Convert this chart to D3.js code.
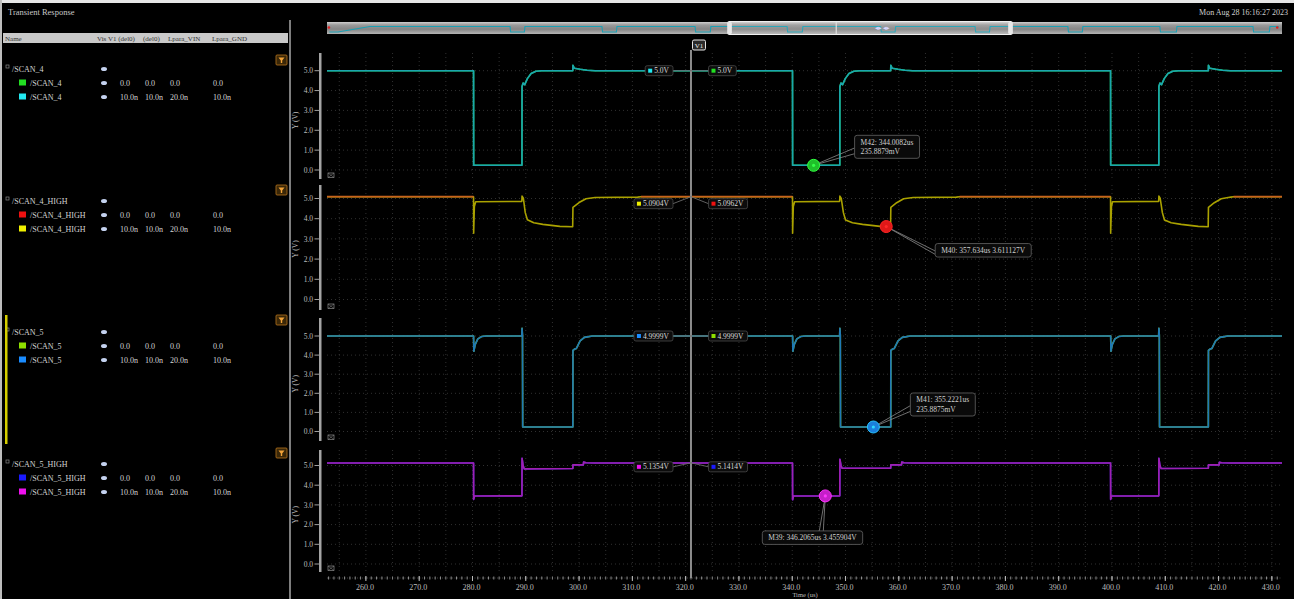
<!DOCTYPE html>
<html>
<head>
<meta charset="utf-8">
<script src="https://cdn.jsdelivr.net/npm/d3@7"></script>
<style>
  html, body { margin: 0; padding: 0; background: #000; overflow: hidden; }
  svg { display: block; }
  text { font-family: "Liberation Serif", "DejaVu Serif", serif; }
</style>
</head>
<body>
<svg id="chart" width="1294" height="599"></svg>
<script>
// ---------------- data ----------------
const xTickValues = [260, 270, 280, 290, 300, 310, 320, 330, 340, 350, 360, 370, 380, 390, 400, 410, 420, 430];
const yTickValues = [0, 1, 2, 3, 4, 5];

// /SCAN_4  [time us, volts]
const scan4Wave = [
  [252.7, 5.0], [280.2, 5.0], [280.22, 0.236], [289.28, 0.236], [289.3, 4.2], [289.5, 4.38], [289.8, 4.3],
  [290.3, 4.6], [291.0, 4.86], [291.9, 4.97], [293.0, 5.0], [298.82, 5.0], [298.85, 5.27], [299.1, 5.12],
  [300.2, 5.07], [301.5, 5.02], [303.0, 5.0],
  [340.05, 5.0], [340.07, 0.236], [348.92, 0.236], [348.94, 4.2], [349.15, 4.38], [349.45, 4.3],
  [349.95, 4.6], [350.65, 4.86], [351.55, 4.97], [352.6, 5.0], [358.47, 5.0], [358.5, 5.27], [358.75, 5.12],
  [359.85, 5.07], [361.15, 5.02], [362.6, 5.0],
  [399.73, 5.0], [399.75, 0.236], [408.78, 0.236], [408.8, 4.2], [409.0, 4.38], [409.3, 4.3],
  [409.8, 4.6], [410.5, 4.86], [411.4, 4.97], [412.5, 5.0], [418.08, 5.0], [418.1, 5.27], [418.35, 5.12],
  [419.45, 5.07], [420.75, 5.02], [422.2, 5.0], [431.9, 5.0]
];

// /SCAN_4_HIGH
const scan4HighWave = [
  [252.7, 5.09], [280.2, 5.09], [280.22, 3.28], [280.35, 4.6], [280.6, 4.84], [289.26, 4.86], [289.3, 5.12],
  [289.55, 5.0], [289.9, 4.3], [290.3, 3.95], [291.5, 3.8], [293.2, 3.72], [296.4, 3.62], [298.8, 3.6],
  [298.85, 4.56], [300.0, 4.8], [301.3, 4.99], [303.0, 5.05], [311.0, 5.07], [311.6, 5.09],
  [340.05, 5.09], [340.07, 3.28], [340.2, 4.6], [340.45, 4.84], [348.9, 4.86], [348.94, 5.12], [349.2, 5.0],
  [349.6, 4.3], [350.0, 3.94], [351.3, 3.8], [353.2, 3.72], [356.5, 3.62], [358.45, 3.6], [358.5, 4.56],
  [359.6, 4.79], [360.9, 4.99], [362.7, 5.05], [370.8, 5.07], [371.4, 5.09],
  [399.73, 5.09], [399.75, 3.28], [399.9, 4.6], [400.1, 4.84], [408.76, 4.86], [408.8, 5.12], [409.05, 5.0],
  [409.45, 4.3], [409.85, 3.94], [411.1, 3.8], [413.0, 3.72], [416.2, 3.62], [418.05, 3.6], [418.1, 4.56],
  [419.2, 4.79], [420.5, 4.99], [421.8, 5.05], [422.3, 5.07], [422.8, 5.09], [431.9, 5.09]
];

// /SCAN_5
const scan5Wave = [
  [252.7, 5.0], [280.2, 5.0], [280.25, 4.2], [280.5, 4.55], [281.0, 4.85], [281.7, 4.97], [282.6, 5.0],
  [289.25, 5.0], [289.3, 5.4], [289.38, 5.05], [289.42, 0.236], [298.83, 0.236], [298.85, 4.25], [299.2, 4.32],
  [299.5, 4.35], [300.2, 4.75], [301.0, 4.93], [302.5, 5.0],
  [340.07, 5.0], [340.12, 4.2], [340.37, 4.55], [340.87, 4.85], [341.57, 4.97], [342.47, 5.0],
  [348.89, 5.0], [348.94, 5.4], [349.02, 5.05], [349.06, 0.236], [358.48, 0.236], [358.5, 4.25], [358.85, 4.32],
  [359.15, 4.35], [359.85, 4.75], [360.65, 4.93], [362.15, 5.0],
  [399.75, 5.0], [399.8, 4.2], [400.05, 4.55], [400.55, 4.85], [401.25, 4.97], [402.15, 5.0],
  [408.75, 5.0], [408.8, 5.4], [408.88, 5.05], [408.92, 0.236], [418.08, 0.236], [418.1, 4.25], [418.45, 4.32],
  [418.75, 4.35], [419.45, 4.75], [420.25, 4.93], [421.75, 5.0], [431.9, 5.0]
];

// /SCAN_5_HIGH
const scan5HighWave = [
  [252.7, 5.13], [280.2, 5.13], [280.22, 3.28], [280.4, 3.45], [289.28, 3.46], [289.3, 5.37], [289.5, 5.0],
  [289.7, 4.83], [298.83, 4.85], [298.85, 5.03], [300.8, 5.03], [300.85, 5.18], [301.3, 5.14], [303.0, 5.13],
  [340.05, 5.13], [340.07, 3.26], [340.25, 3.45], [348.92, 3.46], [348.94, 5.32], [349.15, 5.0], [349.35, 4.86],
  [358.47, 4.86], [358.5, 5.03], [360.5, 5.03], [360.55, 5.18], [361.0, 5.14], [362.7, 5.13],
  [399.73, 5.13], [399.75, 3.28], [399.93, 3.45], [408.78, 3.46], [408.8, 5.36], [409.0, 5.0], [409.2, 4.85],
  [418.08, 4.86], [418.1, 5.03], [420.1, 5.03], [420.15, 5.16], [420.6, 5.14], [422.3, 5.13], [431.9, 5.13]
];

// vertical cursor V1
const cursorTime = 321.0;
const cursorReadouts = [
  { left: { color: "#22e8f0", text: "5.0V" },    right: { color: "#22dd22", text: "5.0V" },    value: 5.0 },
  { left: { color: "#f0f000", text: "5.0904V" }, right: { color: "#ee1111", text: "5.0962V" }, value: 5.09 },
  { left: { color: "#1a8cff", text: "4.9999V" }, right: { color: "#8ee000", text: "4.9999V" }, value: 5.0 },
  { left: { color: "#ee10ee", text: "5.1354V" }, right: { color: "#1a1aff", text: "5.1414V" }, value: 5.135 }
];

// point markers
const markers = [
  { name: "M42", t: 344.0082, v: 0.2358879, color: "#1fc02a", lines: ["M42: 344.0082us", "235.8879mV"] },
  { name: "M40", t: 357.634,  v: 3.611127,  color: "#e01818", lines: ["M40: 357.634us 3.611127V"] },
  { name: "M41", t: 355.2221, v: 0.2358875, color: "#1b7fdc", lines: ["M41: 355.2221us", "235.8875mV"] },
  { name: "M39", t: 346.2065, v: 3.455904,  color: "#c41fc8", lines: ["M39: 346.2065us 3.455904V"] }
];

// overview strip: full run, dips of /SCAN_4 [start, end] us
const overviewDips = [[115.4, 124.8], [173.3, 182.8], [232, 242], [290, 300], [349, 358.5],
                      [408.5, 418], [467, 476.5], [525, 535.8], [583.7, 594.4]];
const overviewRamp = [[1.5, 0.3], [6.9, 0.3], [27.1, 5.0]];

// browser panel
const columnHeaders = ["Name", "Vis V1 (del0)", "(del0)", "Lpara_VIN", "Lpara_GND"];
const legendGroups = [
  { name: "/SCAN_4", rows: [
    { label: "/SCAN_4", swatch: "#22dd22", vals: ["0.0", "0.0", "0.0", "0.0"] },
    { label: "/SCAN_4", swatch: "#22e8f0", vals: ["10.0n", "10.0n", "20.0n", "10.0n"] } ] },
  { name: "/SCAN_4_HIGH", rows: [
    { label: "/SCAN_4_HIGH", swatch: "#ee1111", vals: ["0.0", "0.0", "0.0", "0.0"] },
    { label: "/SCAN_4_HIGH", swatch: "#f0f000", vals: ["10.0n", "10.0n", "20.0n", "10.0n"] } ] },
  { name: "/SCAN_5", rows: [
    { label: "/SCAN_5", swatch: "#8ee000", vals: ["0.0", "0.0", "0.0", "0.0"] },
    { label: "/SCAN_5", swatch: "#1a8cff", vals: ["10.0n", "10.0n", "20.0n", "10.0n"] } ] },
  { name: "/SCAN_5_HIGH", rows: [
    { label: "/SCAN_5_HIGH", swatch: "#1a1aff", vals: ["0.0", "0.0", "0.0", "0.0"] },
    { label: "/SCAN_5_HIGH", swatch: "#ee10ee", vals: ["10.0n", "10.0n", "20.0n", "10.0n"] } ] }
];

// ---------------- layout ----------------
const svg = d3.select("#chart");
const W = 1294, H = 599;
const plotLeft = 327, plotRight = 1282;
const x = d3.scaleLinear().domain([252.7, 431.9]).range([plotLeft, plotRight]);

const panels = [
  { top: 53,  bottom: 179, y0: 170,   y5: 70.7, readDy: 0, traces: [
      { wave: scan4Wave, color: "#19c43a", width: 1.6 },
      { wave: scan4Wave, color: "#1ba5af", width: 1.6 } ] },
  { top: 185, bottom: 310, y0: 299.5, y5: 198.5, readDy: 7, traces: [
      { wave: scan4HighWave, color: "#aaa200", width: 1.6 },
      { wave: scan4HighWave, color: "#c8631c", width: 1.8, settledOnly: 5.08 } ] },
  { top: 318, bottom: 441, y0: 431.5, y5: 336, readDy: 0, traces: [
      { wave: scan5Wave, color: "#78c020", width: 1.6 },
      { wave: scan5Wave, color: "#1f79b6", width: 1.6 } ] },
  { top: 450, bottom: 572, y0: 564,   y5: 465.5, readDy: 4, traces: [
      { wave: scan5HighWave, color: "#3a2ad8", width: 1.6 },
      { wave: scan5HighWave, color: "#a01fb2", width: 1.6 } ] }
];
panels.forEach(p => { p.y = d3.scaleLinear().domain([0, 5]).range([p.y0, p.y5]); });
const markerPanel = { M42: 0, M40: 1, M41: 2, M39: 3 };
const markerBox = { M42: [41, -30, "left"], M40: [49, 17, "left"], M41: [37, -34, "left"], M39: [-63, 35, "top"] };

// background
svg.append("rect").attr("width", W).attr("height", H).attr("fill", "#000");
svg.append("rect").attr("x", 0).attr("y", 0).attr("width", W).attr("height", 3).attr("fill", "#e6e6e6");
svg.append("rect").attr("x", 0).attr("y", 0).attr("width", 2).attr("height", H).attr("fill", "#bdbdbd");

// ---------------- left browser panel ----------------
svg.append("text").attr("x", 8).attr("y", 15).attr("font-size", 8.5).attr("fill", "#c8c8c8").text("Transient Response");
svg.append("line").attr("x1", 290).attr("x2", 290).attr("y1", 20).attr("y2", H).attr("stroke", "#a8a8a8").attr("stroke-width", 1.5);
svg.append("rect").attr("x", 3).attr("y", 33).attr("width", 285).attr("height", 10).attr("fill", "#c9c9c9");
const headerX = [5, 97, 143, 168, 212];
columnHeaders.forEach((h, i) => {
  svg.append("text").attr("x", headerX[i]).attr("y", 41).attr("font-size", 7).attr("fill", "#333").text(h);
});

const groupY = [69, 201, 332, 464];
const valX = [120, 145, 170, 213];
legendGroups.forEach((g, gi) => {
  const gy = groupY[gi];
  const grp = svg.append("g");
  grp.append("rect").attr("x", 6).attr("y", gy - 4).attr("width", 3).attr("height", 3).attr("fill", "none").attr("stroke", "#888").attr("stroke-width", 0.7);
  grp.append("text").attr("x", 12).attr("y", gy + 2.5).attr("font-size", 8).attr("fill", "#d4d4d4").text(g.name);
  grp.append("ellipse").attr("cx", 104).attr("cy", gy).attr("rx", 3).attr("ry", 2).attr("fill", "#c4d2ef");
  g.rows.forEach((r, ri) => {
    const ry = gy + 14 * (ri + 1);
    grp.append("rect").attr("x", 19).attr("y", ry - 3.5).attr("width", 7).attr("height", 6).attr("fill", r.swatch);
    grp.append("text").attr("x", 30).attr("y", ry + 2.5).attr("font-size", 8).attr("fill", "#d4d4d4").text(r.label);
    grp.append("ellipse").attr("cx", 104).attr("cy", ry).attr("rx", 3).attr("ry", 2).attr("fill", "#c4d2ef");
    r.vals.forEach((v, vi) => {
      grp.append("text").attr("x", valX[vi]).attr("y", ry + 2.5).attr("font-size", 8).attr("fill", "#d4d4d4").text(v);
    });
  });
});
// selection bar beside /SCAN_5
svg.append("rect").attr("x", 5).attr("y", 315).attr("width", 2.5).attr("height", 129).attr("fill", "#d6cf00");
// filter icons
[55, 185, 315, 448].forEach(fy => {
  const f = svg.append("g").attr("transform", `translate(276,${fy})`);
  f.append("rect").attr("width", 11).attr("height", 10).attr("rx", 1).attr("fill", "#3a2708").attr("stroke", "#b8731c").attr("stroke-width", 0.8);
  f.append("path").attr("d", "M2.5,2.5 L8.5,2.5 L6.2,5.5 L6.2,8 L4.8,8 L4.8,5.5 Z").attr("fill", "#f2a338");
});

// ---------------- top overview strip ----------------
svg.append("text").attr("x", 1288).attr("y", 15).attr("text-anchor", "end").attr("font-size", 8).attr("fill", "#cfcfcf").text("Mon Aug 28 16:16:27 2023");
const defs = svg.append("defs");
const grad = defs.append("linearGradient").attr("id", "ovGrad").attr("x1", 0).attr("x2", 0).attr("y1", 0).attr("y2", 1);
grad.append("stop").attr("offset", "0%").attr("stop-color", "#cfcfcf");
grad.append("stop").attr("offset", "25%").attr("stop-color", "#9a9a9a");
grad.append("stop").attr("offset", "60%").attr("stop-color", "#858585");
grad.append("stop").attr("offset", "100%").attr("stop-color", "#b4b4b4");
const ov = d3.scaleLinear().domain([0, 602]).range([plotLeft, plotRight]);
const ovY = d3.scaleLinear().domain([0, 5]).range([32.3, 26.5]);
svg.append("rect").attr("x", plotLeft).attr("y", 22).attr("width", plotRight - plotLeft).attr("height", 12).attr("fill", "url(#ovGrad)");
const ovPts = overviewRamp.slice();
overviewDips.forEach(([a, b]) => { ovPts.push([a, 5], [a + 0.4, 0.236], [b - 0.4, 0.236], [b, 5]); });
ovPts.push([600, 5]);
svg.append("path").attr("d", d3.line().x(d => ov(d[0])).y(d => ovY(d[1]))(ovPts))
  .attr("fill", "none").attr("stroke", "#1aa0b4").attr("stroke-width", 1.1);
[1.2, 599].forEach(t => svg.append("circle").attr("cx", ov(t)).attr("cy", 27.5).attr("r", 1.3).attr("fill", "#e02020"));
const wx0 = ov(x.domain()[0]), wx1 = ov(x.domain()[1]);
svg.append("rect").attr("x", wx0).attr("y", 21.5).attr("width", wx1 - wx0).attr("height", 13).attr("fill", "#ffffff").attr("fill-opacity", 0.08)
  .attr("stroke", "#f0f0f0").attr("stroke-width", 1.2).attr("rx", 1.5);
[wx0, wx1 - 4].forEach(hx => svg.append("rect").attr("x", hx).attr("y", 22).attr("width", 4).attr("height", 12).attr("rx", 1.5).attr("fill", "#e8e8e8"));
svg.append("line").attr("x1", ov(cursorTime)).attr("x2", ov(cursorTime)).attr("y1", 22).attr("y2", 34).attr("stroke", "#e0e0e0").attr("stroke-width", 1.2);
svg.append("text").attr("x", ov(cursorTime) + 46).attr("y", 30).attr("text-anchor", "middle").attr("font-size", 6.5).attr("fill", "#d8d8ff").text("◂▸  ◂▸");

// ---------------- waveform panels ----------------
const gridT = d3.range(255, 432, 5);
panels.forEach((p, pi) => {
  const g = svg.append("g");
  const clipId = "clip" + pi;
  defs.append("clipPath").attr("id", clipId).append("rect")
    .attr("x", plotLeft).attr("y", p.top).attr("width", plotRight - plotLeft).attr("height", p.bottom - p.top);

  // dotted grid
  g.selectAll(".vg").data(gridT).join("line")
    .attr("x1", d => x(d)).attr("x2", d => x(d)).attr("y1", p.top).attr("y2", p.bottom)
    .attr("stroke", "#3c3c3c").attr("stroke-width", 0.8).attr("stroke-dasharray", "1,3");
  g.selectAll(".hg").data(yTickValues).join("line")
    .attr("x1", plotLeft).attr("x2", plotRight).attr("y1", d => p.y(d)).attr("y2", d => p.y(d))
    .attr("stroke", "#3c3c3c").attr("stroke-width", 0.8).attr("stroke-dasharray", "1,3");

  // y axis bar and ticks
  g.append("rect").attr("x", 319).attr("y", p.top).attr("width", 2.5).attr("height", p.bottom - p.top).attr("fill", "#a4a4a4");
  g.selectAll(".yt").data(yTickValues).join("line")
    .attr("x1", 314.5).attr("x2", 319).attr("y1", d => p.y(d)).attr("y2", d => p.y(d)).attr("stroke", "#b0b0b0").attr("stroke-width", 0.9);
  g.selectAll(".yl").data(yTickValues).join("text")
    .attr("x", 313).attr("y", d => p.y(d) + 2.7).attr("text-anchor", "end").attr("font-size", 7.5).attr("fill", "#bdbdbd")
    .text(d => d.toFixed(1));
  const midY = (p.y(0) + p.y(5)) / 2;
  g.append("text").attr("transform", `translate(298,${midY}) rotate(-90)`).attr("text-anchor", "middle")
    .attr("font-size", 7.5).attr("fill", "#bdbdbd").text("Y (V)");
  // lock glyph
  g.append("rect").attr("x", 328).attr("y", p.bottom - 6).attr("width", 6).attr("height", 4.5).attr("fill", "none").attr("stroke", "#8a8a8a").attr("stroke-width", 0.7);
  g.append("path").attr("d", `M328,${p.bottom - 6} L334,${p.bottom - 1.5} M334,${p.bottom - 6} L328,${p.bottom - 1.5}`).attr("stroke", "#8a8a8a").attr("stroke-width", 0.5);

  // traces
  const tg = g.append("g").attr("clip-path", `url(#${clipId})`);
  p.traces.forEach(tr => {
    const line = d3.line().x(d => x(d[0])).y(d => p.y(d[1]));
    if (tr.settledOnly !== undefined) line.defined(d => d[1] >= tr.settledOnly);
    tg.append("path").attr("d", line(tr.wave)).attr("fill", "none")
      .attr("stroke", tr.color).attr("stroke-width", tr.width).attr("stroke-linejoin", "round");
  });
});

// ---------------- x axis ----------------
const axisY = 578;
const minorT = d3.range(253, 432, 1);
svg.append("g").selectAll("line").data(minorT).join("line")
  .attr("x1", d => x(d)).attr("x2", d => x(d)).attr("y1", axisY - 1.5).attr("y2", axisY + 1.5)
  .attr("stroke", "#a0a0a0").attr("stroke-width", 0.9);
svg.append("line").attr("x1", plotLeft).attr("x2", plotRight).attr("y1", axisY).attr("y2", axisY)
  .attr("stroke", "#6a6a6a").attr("stroke-width", 0.6).attr("stroke-dasharray", "1,1.5");
svg.append("g").selectAll("line").data(xTickValues).join("line")
  .attr("x1", d => x(d)).attr("x2", d => x(d)).attr("y1", axisY - 2).attr("y2", axisY + 3)
  .attr("stroke", "#c0c0c0").attr("stroke-width", 1);
svg.append("g").selectAll("text").data(xTickValues).join("text")
  .attr("x", d => x(d) - 1).attr("y", 590).attr("text-anchor", "middle").attr("font-size", 8).attr("fill", "#bdbdbd")
  .text(d => d.toFixed(1));
svg.append("text").attr("x", 805).attr("y", 596.5).attr("text-anchor", "middle").attr("font-size", 6.5).attr("fill", "#bdbdbd").text("Time (us)");

// ---------------- cursor V1 ----------------
const cx = x(cursorTime);
svg.append("line").attr("x1", cx).attr("x2", cx).attr("y1", 50).attr("y2", axisY)
  .attr("stroke", "#8c8c8c").attr("stroke-width", 2);
svg.append("rect").attr("x", cx + 1.5).attr("y", 40).attr("width", 13).attr("height", 10).attr("rx", 1.5)
  .attr("fill", "#2a2a2a").attr("stroke", "#e8e8e8").attr("stroke-width", 1);
svg.append("text").attr("x", cx + 8).attr("y", 47.8).attr("text-anchor", "middle").attr("font-size", 7).attr("fill", "#f0f0f0").text("V1");

function readoutBox(g, side, anchorX, cy, item) {
  const t = g.append("text").attr("y", cy + 2.6).attr("font-size", 7.5).attr("fill", "#d8d8d8").text(item.text);
  const tw = t.node().getComputedTextLength();
  const bw = tw + 13, bh = 10;
  const bx = side === "left" ? anchorX - bw : anchorX;
  g.insert("rect", "text").attr("x", bx).attr("y", cy - bh / 2).attr("width", bw).attr("height", bh).attr("rx", 2)
    .attr("fill", "#0c0c0c").attr("stroke", "#4a4a4a").attr("stroke-width", 0.8);
  g.append("rect").attr("x", bx + 3).attr("y", cy - 2).attr("width", 4).attr("height", 4).attr("fill", item.color);
  t.attr("x", bx + 9);
  return side === "left" ? bx + bw : bx;
}
cursorReadouts.forEach((r, i) => {
  const p = panels[i];
  const ty = p.y(r.value);
  const by = ty + p.readDy;
  const g = svg.append("g");
  const lx = readoutBox(g, "left", cx - 18, by, r.left);
  const rx = readoutBox(g, "right", cx + 17.5, by, r.right);
  g.insert("path", ":first-child").attr("d", `M${lx},${by} L${cx},${ty} L${rx},${by}`)
    .attr("fill", "none").attr("stroke", "#6a6a6a").attr("stroke-width", 0.9);
});

// ---------------- markers ----------------
markers.forEach(m => {
  const p = panels[markerPanel[m.name]];
  const mx = x(m.t), my = p.y(m.v);
  const [dx, dy, anchor] = markerBox[m.name];
  const g = svg.append("g");
  const lineH = 9.5;
  const texts = m.lines.map((s, i) => g.append("text").attr("font-size", 7.5).attr("fill", "#d0d0d0").text(s));
  const tw = d3.max(texts, t => t.node().getComputedTextLength());
  const bw = tw + 12, bh = lineH * m.lines.length + 4;
  const bx = mx + dx, by = my + dy;
  texts.forEach((t, i) => t.attr("x", bx + 6).attr("y", by + 9.5 + i * lineH));
  g.insert("rect", "text").attr("x", bx).attr("y", by).attr("width", bw).attr("height", bh).attr("rx", 2.5)
    .attr("fill", "#0a0a0a").attr("stroke", "#5a5a5a").attr("stroke-width", 0.9);
  let p1, p2;
  if (anchor === "left") { p1 = [bx, by + bh * 0.55]; p2 = [bx, by + bh * 0.8]; }
  else { p1 = [mx - 6, by]; p2 = [mx - 2, by]; }
  g.insert("path", ":first-child").attr("d", `M${mx},${my} L${p1[0]},${p1[1]} M${mx},${my} L${p2[0]},${p2[1]}`)
    .attr("stroke", "#8a8a8a").attr("stroke-width", 0.8).attr("fill", "none");
  g.append("circle").attr("cx", mx).attr("cy", my).attr("r", 6).attr("fill", m.color)
    .attr("stroke", d3.color(m.color).brighter(1.2)).attr("stroke-width", 1);
  g.append("circle").attr("cx", mx).attr("cy", my).attr("r", 1.6).attr("fill", d3.color(m.color).brighter(1.5));
});
</script>
</body>
</html>
